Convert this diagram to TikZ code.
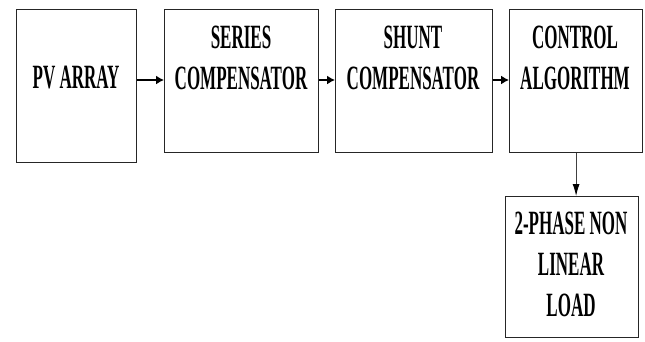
\documentclass[tikz,border=0pt]{standalone}
\usepackage{fontspec}
\setmainfont{Liberation Serif}[FakeStretch=0.5]
\usetikzlibrary{arrows.meta}
\begin{document}
\begin{tikzpicture}[x=1pt,y=-1pt,
  blk/.style={draw=black!85,line width=1.2pt,rectangle,inner sep=0pt,anchor=north west},
  lbl/.style={align=center,inner sep=0pt,font=\bfseries\fontsize{34}{41}\selectfont},
  arr/.style={line width=1.4pt,-{Latex[length=8pt,width=9pt]}},
  varr/.style={line width=0.9pt,draw=black!75,-{Latex[length=12pt,width=7pt,fill=black,color=black]}}]
\useasboundingbox (0,0) rectangle (645,341);
\node[blk,minimum width=120pt,minimum height=153pt] (b1) at (16,9) {};
\node[blk,minimum width=154pt,minimum height=143pt] (b2) at (164,9) {};
\node[blk,minimum width=157pt,minimum height=143pt] (b3) at (335,9) {};
\node[blk,minimum width=133pt,minimum height=143pt] (b4) at (509,9) {};
\node[blk,minimum width=133pt,minimum height=141pt] (b5) at (505,196) {};
\node[lbl] (t1) at (76,78) {PV ARRAY};
\node[lbl] (t2) at (241,58) {SERIES\\COMPENSATOR};
\node[lbl] (t3) at (413,58) {SHUNT\\COMPENSATOR};
\node[lbl] (t4) at (575,58) {CONTROL\\ALGORITHM};
\node[lbl] (t5) at (571,264) {2-PHASE NON\\LINEAR\\LOAD};
\coordinate (ay) at (0,80);
\draw[arr] (b1.east |- ay) -- (b2.west |- ay);
\draw[arr] (b2.east |- ay) -- (b3.west |- ay);
\draw[arr] (b3.east |- ay) -- (b4.west |- ay);
\draw[varr] (b4.south) -- (b4.south |- b5.north);
\end{tikzpicture}
\end{document}
